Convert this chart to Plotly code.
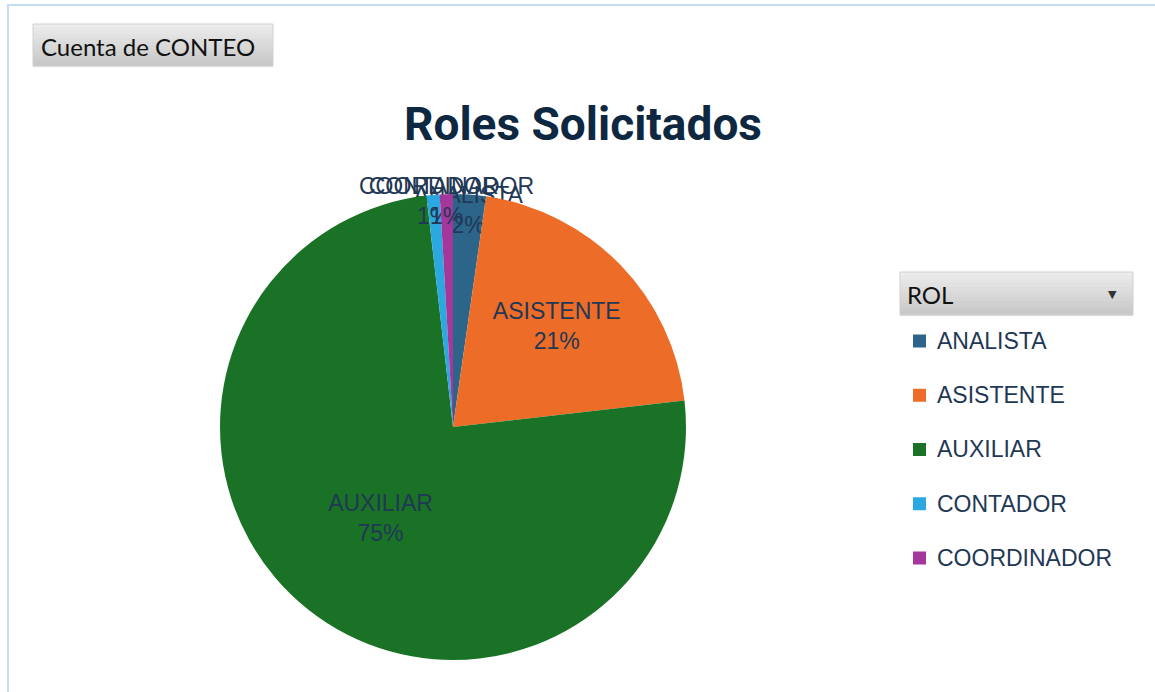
import plotly.graph_objects as go

# datos del grafico dinamico
roles = ["ANALISTA", "ASISTENTE", "AUXILIAR", "CONTADOR", "COORDINADOR"]
conteo = [5, 46, 165, 2, 2]
colores = ["#2D6489", "#EC6C28", "#1A7226", "#2CA8E0", "#A3379C"]

W, H = 1155, 692
txt_color = "#1F3855"

fig = go.Figure()

fig.add_trace(go.Pie(
    labels=roles,
    values=conteo,
    sort=False,
    direction="clockwise",
    rotation=0,
    marker=dict(colors=colores, line=dict(width=0)),
    texttemplate="%{label}<br>%{percent:.0%}",
    textposition="inside",
    insidetextorientation="horizontal",
    textfont=dict(family="Liberation Sans", size=23, color=txt_color),
    domain=dict(x=[220 / W, 686 / W], y=[32 / H, 498 / H]),
    showlegend=False,
    hoverinfo="label+value+percent",
))

shapes = []
annotations = []


def gray_box(x0, x1, ytop, ybot, n=12):
    # caja gris con degradado (boton de tabla dinamica)
    c_top, c_bot = (236, 236, 236), (200, 200, 200)
    step = (ybot - ytop) / n
    for k in range(n):
        t = k / (n - 1)
        c = tuple(int(c_top[j] + (c_bot[j] - c_top[j]) * t) for j in range(3))
        shapes.append(dict(type="rect", xref="paper", yref="paper",
                           x0=x0 / W, x1=x1 / W,
                           y0=1 - (ytop + (k + 1) * step + 0.5) / H,
                           y1=1 - (ytop + k * step) / H,
                           line=dict(width=0), fillcolor="rgb(%d,%d,%d)" % c, layer="below"))
    shapes.append(dict(type="rect", xref="paper", yref="paper",
                       x0=x0 / W, x1=x1 / W, y0=1 - ybot / H, y1=1 - ytop / H,
                       line=dict(color="#D0D0D0", width=1), fillcolor="rgba(0,0,0,0)"))


# borde del area del grafico
shapes.append(dict(type="rect", xref="paper", yref="paper",
                   x0=8 / W, x1=1.01, y0=-0.01, y1=1 - 5 / H,
                   line=dict(color="#C5DCF3", width=2), fillcolor="rgba(0,0,0,0)"))

# boton "Cuenta de CONTEO"
gray_box(33, 273, 24, 66)
annotations.append(dict(text="Cuenta de CONTEO", xref="paper", yref="paper",
                        x=39 / W, y=1 - 46 / H, xanchor="left", yanchor="middle",
                        showarrow=False, font=dict(family="Lato", size=24, color="#111111")))

# cabecera de la leyenda "ROL"
gray_box(900, 1133, 272, 315)
annotations.append(dict(text="ROL", xref="paper", yref="paper",
                        x=905 / W, y=1 - 294 / H, xanchor="left", yanchor="middle",
                        showarrow=False, font=dict(family="Lato", size=24, color="#111111")))
annotations.append(dict(text="▼", xref="paper", yref="paper",
                        x=1112 / W, y=1 - 295 / H, xanchor="center", yanchor="middle",
                        showarrow=False, font=dict(family="DejaVu Sans", size=11, color="#333333")))

# leyenda
for i, (rol, col) in enumerate(zip(roles, colores)):
    yc = 341 + i * 54.25
    shapes.append(dict(type="rect", xref="paper", yref="paper",
                       x0=913 / W, x1=926 / W, y0=1 - (yc + 6.5) / H, y1=1 - (yc - 6.5) / H,
                       line=dict(width=0), fillcolor=col))
    annotations.append(dict(text=rol, xref="paper", yref="paper",
                            x=935 / W, y=1 - yc / H, xanchor="left", yanchor="middle",
                            showarrow=False,
                            font=dict(family="Liberation Sans", size=23, color=txt_color)))

fig.update_layout(
    width=W, height=H,
    margin=dict(l=0, r=0, t=0, b=0),
    paper_bgcolor="white",
    plot_bgcolor="white",
    title=dict(text="<b>Roles Solicitados</b>", x=583 / W, xanchor="center",
               y=1 - 124 / H, yanchor="middle",
               font=dict(family="Roboto", size=46, color="#0E2841")),
    uniformtext=dict(minsize=23, mode="show"),
    shapes=shapes,
    annotations=annotations,
)

fig.write_html("out.html", config={"displayModeBar": False},
               post_script="document.body.style.margin='0';")
